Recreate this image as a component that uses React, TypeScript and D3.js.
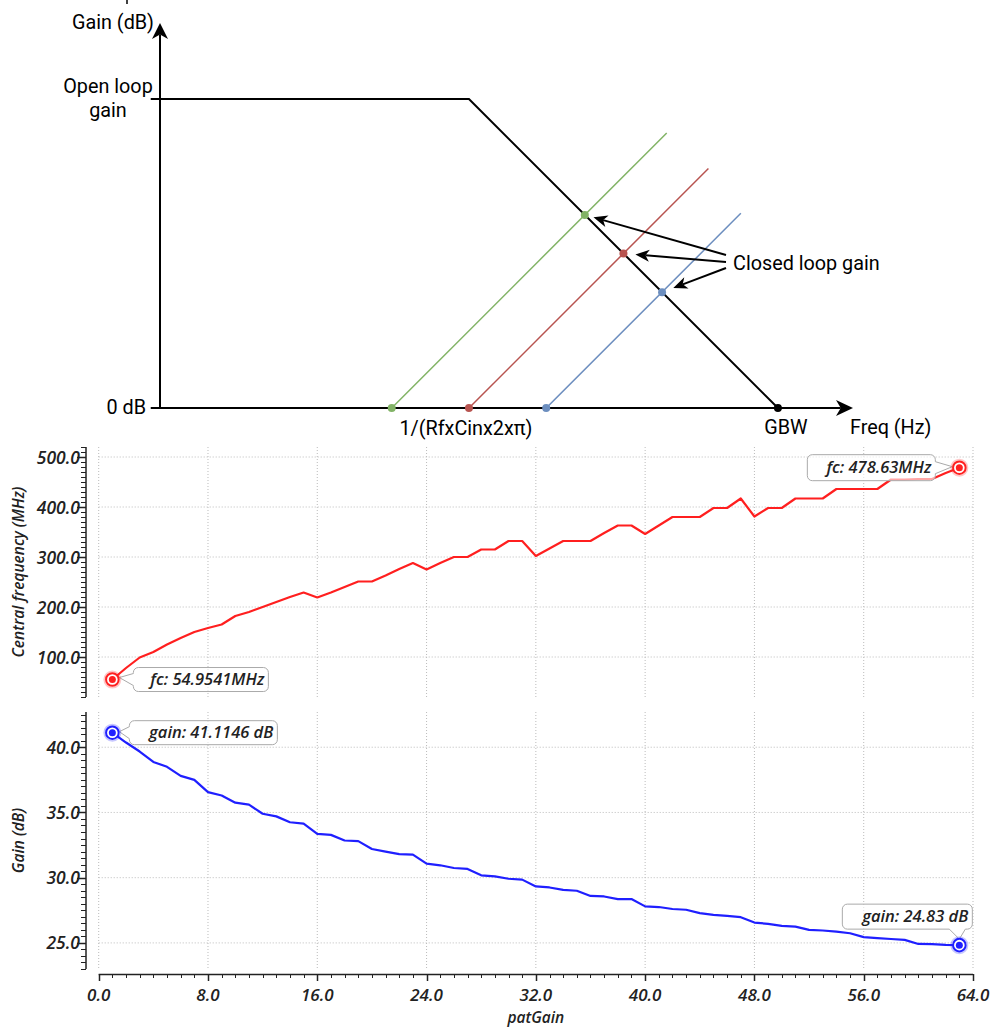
import React, { useEffect, useRef } from "react";
import * as d3 from "d3";

// ---- schematic (open loop vs closed loop gain), in abstract axis units ----
const openLoopGain = 10;
const kneeFreq = 10;
const gbwFreq = 20;
const closedStarts = [7.5, 10, 12.5];
const closedEnds = [16.4, 17.75, 18.8];
const closedColors = ["#82b366", "#b85450", "#6c8ebf"];

// ---- simulation results ----
const patGain = [
  1, 2, 3, 4, 5, 6, 7, 8, 9, 10, 11, 12, 13, 14, 15, 16, 17, 18, 19, 20, 21,
  22, 23, 24, 25, 26, 27, 28, 29, 30, 31, 32, 33, 34, 35, 36, 37, 38, 39, 40,
  41, 42, 43, 44, 45, 46, 47, 48, 49, 50, 51, 52, 53, 54, 55, 56, 57, 58, 59,
  60, 61, 62, 63,
];
const centralFreq = [
  54.9541, 78, 99, 110, 125, 138, 150, 158, 165, 182, 190, 200, 210, 220, 229,
  219, 229, 240, 251, 251, 263, 276, 288, 275, 288, 300, 300, 315, 315, 332,
  332, 302, 317, 332, 332, 332, 348, 363, 363, 346, 363, 380, 380, 380, 398,
  398, 417, 381, 398, 398, 417, 417, 417, 436, 436, 436, 436, 455, 455, 456,
  456, 468, 478.63,
];
const gainDb = [
  41.1146, 40.36, 39.67, 38.87, 38.5, 37.8, 37.5, 36.56, 36.3, 35.75, 35.6,
  34.9, 34.7, 34.25, 34.15, 33.36, 33.28, 32.85, 32.8, 32.2, 32.0, 31.8, 31.77,
  31.08, 30.95, 30.74, 30.67, 30.18, 30.1, 29.92, 29.85, 29.33, 29.25, 29.07,
  29.0, 28.6, 28.56, 28.36, 28.36, 27.8, 27.75, 27.6, 27.54, 27.28, 27.15,
  27.07, 26.97, 26.56, 26.46, 26.3, 26.25, 26.0, 25.95, 25.87, 25.74, 25.44,
  25.36, 25.3, 25.23, 24.92, 24.9, 24.85, 24.83,
];
const xTicks = [0, 8, 16, 24, 32, 40, 48, 56, 64];
const freqTicks = [100, 200, 300, 400, 500];
const gainTicks = [25, 30, 35, 40];

const W = 992;
const H = 1028;
const chartFont = "'Open Sans', 'Noto Sans', sans-serif";
const diagFont = "Roboto, 'Noto Sans', sans-serif";

const arrowHead = (g, x1, y1, x2, y2, len, half) => {
  const dx = x2 - x1;
  const dy = y2 - y1;
  const l = Math.sqrt(dx * dx + dy * dy);
  const ux = dx / l;
  const uy = dy / l;
  const nx = -uy;
  const ny = ux;
  const bx = x2 - ux * len;
  const by = y2 - uy * len;
  const notchX = x2 - ux * len * 0.72;
  const notchY = y2 - uy * len * 0.72;
  g.append("line")
    .attr("x1", x1).attr("y1", y1)
    .attr("x2", notchX).attr("y2", notchY)
    .attr("stroke", "#000").attr("stroke-width", 2);
  g.append("path")
    .attr("d", `M${x2},${y2}L${bx + nx * half},${by + ny * half}L${notchX},${notchY}L${bx - nx * half},${by - ny * half}Z`)
    .attr("fill", "#000");
};

// rounded box with a pointer towards (tx,ty)
const callout = (g, box, side, tx, ty, text) => {
  const { x, y, w, h } = box;
  const r = 5;
  const cy = y + h / 2;
  let d;
  if (side === "left") {
    d = `M${x + r},${y}H${x + w - r}A${r},${r} 0 0 1 ${x + w},${y + r}V${y + h - r}A${r},${r} 0 0 1 ${x + w - r},${y + h}H${x + r}A${r},${r} 0 0 1 ${x},${y + h - r}V${cy + 6}L${tx},${ty}L${x},${cy - 6}V${y + r}A${r},${r} 0 0 1 ${x + r},${y}Z`;
  } else if (side === "right") {
    d = `M${x + r},${y}H${x + w - r}A${r},${r} 0 0 1 ${x + w},${y + r}V${cy - 6}L${tx},${ty}L${x + w},${cy + 6}V${y + h - r}A${r},${r} 0 0 1 ${x + w - r},${y + h}H${x + r}A${r},${r} 0 0 1 ${x},${y + h - r}V${y + r}A${r},${r} 0 0 1 ${x + r},${y}Z`;
  } else {
    d = `M${x + r},${y}H${x + w - r}A${r},${r} 0 0 1 ${x + w},${y + r}V${y + h - r}A${r},${r} 0 0 1 ${x + w - r},${y + h}H${tx + 6}L${tx},${ty}L${tx - 10},${y + h}H${x + r}A${r},${r} 0 0 1 ${x},${y + h - r}V${y + r}A${r},${r} 0 0 1 ${x + r},${y}Z`;
  }
  g.append("path")
    .attr("d", d)
    .attr("fill", "#fff")
    .attr("fill-opacity", 0.6)
    .attr("stroke", "#aaa")
    .attr("stroke-width", 1);
  g.append("text")
    .attr("x", x + w - 4)
    .attr("y", cy + 5.5)
    .attr("text-anchor", "end")
    .attr("font-family", chartFont)
    .attr("font-style", "italic")
    .attr("font-weight", 600)
    .attr("font-size", 16.5)
    .attr("fill", "#222")
    .text(text);
};

const marker = (g, cx, cy, color) => {
  g.append("circle").attr("cx", cx).attr("cy", cy).attr("r", 8)
    .attr("fill", "none").attr("stroke", color).attr("stroke-opacity", 0.25).attr("stroke-width", 2);
  g.append("circle").attr("cx", cx).attr("cy", cy).attr("r", 6.3)
    .attr("fill", "#fff").attr("stroke", color).attr("stroke-width", 2);
  g.append("circle").attr("cx", cx).attr("cy", cy).attr("r", 3.5).attr("fill", color);
};

const App = () => {
  const ref = useRef(null);

  useEffect(() => {
    const svg = d3.select(ref.current);
    svg.selectAll("*").remove();

    // ================= schematic =================
    const diagX = d3.scaleLinear().domain([0, 22.43]).range([160, 853]);
    const diagY = d3.scaleLinear().domain([0, 12.46]).range([408, 23]);
    const dg = svg.append("g");

    dg.append("line").attr("x1", 127).attr("y1", 0).attr("x2", 127).attr("y2", 4)
      .attr("stroke", "#000").attr("stroke-width", 1.5);

    // axes with arrows
    arrowHead(dg, diagX(0), diagY(0), diagX(0), diagY(12.46), 16, 8);
    dg.append("line")
      .attr("x1", diagX(-0.3)).attr("y1", diagY(0))
      .attr("x2", diagX(0)).attr("y2", diagY(0))
      .attr("stroke", "#000").attr("stroke-width", 2);
    arrowHead(dg, diagX(0), diagY(0), diagX(22.43), diagY(0), 17, 8);

    // open loop response
    const diagLine = d3.line().x((d) => diagX(d[0])).y((d) => diagY(d[1]));
    dg.append("path")
      .attr("d", diagLine([[-0.3, openLoopGain], [kneeFreq, openLoopGain], [gbwFreq, 0]]))
      .attr("fill", "none").attr("stroke", "#000").attr("stroke-width", 2);

    // closed loop lines
    const hits = [];
    closedStarts.forEach((s, i) => {
      const e = closedEnds[i];
      dg.append("path")
        .attr("d", diagLine([[s, 0], [e, e - s]]))
        .attr("fill", "none").attr("stroke", closedColors[i]).attr("stroke-width", 1.5);
      const hx = (gbwFreq + s) / 2;
      const hy = (gbwFreq - s) / 2;
      hits.push([diagX(hx), diagY(hy)]);
      dg.append("circle").attr("cx", diagX(s)).attr("cy", diagY(0)).attr("r", 4).attr("fill", closedColors[i]);
      dg.append("circle").attr("cx", diagX(hx)).attr("cy", diagY(hy)).attr("r", 4).attr("fill", closedColors[i]);
    });
    dg.append("circle").attr("cx", diagX(gbwFreq)).attr("cy", diagY(0)).attr("r", 4).attr("fill", "#000");

    // "Closed loop gain" arrows
    const starts = [[726, 255], [726, 262], [726, 268]];
    hits.forEach((p, i) => {
      const [sx, sy] = starts[i];
      const dx = p[0] - sx;
      const dy = p[1] - sy;
      const l = Math.sqrt(dx * dx + dy * dy);
      const gap = i === 0 ? 9 : 12;
      arrowHead(dg, sx, sy, p[0] - (dx / l) * gap, p[1] - (dy / l) * gap, 14, 6);
    });

    const diagText = (x, y, anchor, t) =>
      dg.append("text")
        .attr("x", x).attr("y", y)
        .attr("text-anchor", anchor)
        .attr("font-family", diagFont)
        .attr("font-size", 19.8)
        .attr("fill", "#000")
        .text(t);
    diagText(154, 29, "end", "Gain (dB)");
    diagText(108, 93, "middle", "Open loop");
    diagText(108, 117, "middle", "gain");
    diagText(146, 414, "end", "0 dB");
    diagText(diagX(kneeFreq) - 3, 435, "middle", "1/(RfxCinx2xπ)");
    diagText(diagX(gbwFreq) + 8, 434, "middle", "GBW");
    diagText(850, 434, "start", "Freq (Hz)");
    diagText(733, 270, "start", "Closed loop gain");

    // ================= simulation charts =================
    const x = d3.scaleLinear().domain([0, 64]).range([98.7, 973]);
    const yFreq = d3.scaleLinear().domain([20, 520]).range([697, 447]);
    const yGain = d3.scaleLinear().domain([23, 42.7]).range([969, 712]);
    const axisX = 86;

    const panel = (yScale, ticks, minorStep, title, values, color) => {
      const g = svg.append("g");
      const [y0, y1] = yScale.range();
      const [d0, d1] = yScale.domain();

      // grid
      g.selectAll(".vg").data(xTicks).enter().append("line")
        .attr("x1", (d) => x(d)).attr("x2", (d) => x(d))
        .attr("y1", y1).attr("y2", y0)
        .attr("stroke", "#bbb").attr("stroke-dasharray", "1,2");
      g.selectAll(".hg").data(ticks).enter().append("line")
        .attr("x1", x(0)).attr("x2", x(64))
        .attr("y1", (d) => yScale(d)).attr("y2", (d) => yScale(d))
        .attr("stroke", "#bbb").attr("stroke-dasharray", "1,2");

      // y axis
      g.append("line").attr("x1", axisX).attr("x2", axisX).attr("y1", y0).attr("y2", y1)
        .attr("stroke", "#222").attr("stroke-width", 1.5);
      const minor = d3.range(Math.ceil(d0 / minorStep) * minorStep, d1 + 1e-9, minorStep);
      g.selectAll(".mt").data(minor).enter().append("line")
        .attr("x1", axisX - 5).attr("x2", axisX)
        .attr("y1", (d) => Math.round(yScale(d)) + 0.5).attr("y2", (d) => Math.round(yScale(d)) + 0.5)
        .attr("stroke", "#222");
      g.selectAll(".Mt").data(ticks).enter().append("line")
        .attr("x1", axisX - 9).attr("x2", axisX)
        .attr("y1", (d) => Math.round(yScale(d)) + 0.5).attr("y2", (d) => Math.round(yScale(d)) + 0.5)
        .attr("stroke", "#222").attr("stroke-width", 1.5);
      g.selectAll(".tl").data(ticks).enter().append("text")
        .attr("x", axisX - 6).attr("y", (d) => yScale(d) + 6.5)
        .attr("text-anchor", "end")
        .attr("font-family", chartFont).attr("font-style", "italic").attr("font-weight", 600)
        .attr("font-size", 17.5).attr("fill", "#222")
        .text((d) => d.toFixed(1));
      g.append("text")
        .attr("transform", `translate(24,${(y0 + y1) / 2}) rotate(-90)`)
        .attr("text-anchor", "middle")
        .attr("font-family", chartFont).attr("font-style", "italic").attr("font-weight", 600)
        .attr("font-size", 15.5).attr("fill", "#222")
        .text(title);

      // series
      const line = d3.line().x((d, i) => x(patGain[i])).y((d) => yScale(d));
      g.append("path").attr("d", line(values))
        .attr("fill", "none").attr("stroke", color).attr("stroke-width", 2.2)
        .attr("stroke-linejoin", "round");

      const n = values.length - 1;
      return {
        g,
        first: [x(patGain[0]), yScale(values[0])],
        last: [x(patGain[n]), yScale(values[n])],
      };
    };

    const top = panel(yFreq, freqTicks, 10, "Central frequency (MHz)", centralFreq, "#ff1f1f");
    const bot = panel(yGain, gainTicks, 0.5, "Gain (dB)", gainDb, "#1f1fff");

    // x axis
    const xg = svg.append("g");
    xg.append("line").attr("x1", x(0)).attr("x2", x(64)).attr("y1", 974.5).attr("y2", 974.5)
      .attr("stroke", "#222").attr("stroke-width", 1.5);
    xg.selectAll(".xm").data(d3.range(0, 65, 1)).enter().append("line")
      .attr("x1", (d) => Math.round(x(d)) + 0.5).attr("x2", (d) => Math.round(x(d)) + 0.5)
      .attr("y1", 974).attr("y2", (d) => (d % 8 === 0 ? 981 : 978))
      .attr("stroke", "#222").attr("stroke-width", (d) => (d % 8 === 0 ? 1.5 : 1));
    xg.selectAll(".xl").data(xTicks).enter().append("text")
      .attr("x", (d) => x(d)).attr("y", 1001)
      .attr("text-anchor", "middle")
      .attr("font-family", chartFont).attr("font-style", "italic").attr("font-weight", 600)
      .attr("font-size", 17).attr("fill", "#222")
      .text((d) => d.toFixed(1));
    xg.append("text")
      .attr("x", x(32)).attr("y", 1023)
      .attr("text-anchor", "middle")
      .attr("font-family", chartFont).attr("font-style", "italic").attr("font-weight", 600)
      .attr("font-size", 15.5).attr("fill", "#222")
      .text("patGain");

    // markers + callouts
    const [fx0, fy0] = top.first;
    const [fx1, fy1] = top.last;
    const [gx0, gy0] = bot.first;
    const [gx1, gy1] = bot.last;
    callout(top.g, { x: fx0 + 21, y: fy0 - 12, w: 135, h: 24 }, "left", fx0 + 7, fy0 - 2, `fc: ${centralFreq[0]}MHz`);
    callout(top.g, { x: fx1 - 152, y: fy1 - 13, w: 128, h: 26 }, "right", fx1 - 7, fy1 - 1, `fc: ${centralFreq[centralFreq.length - 1]}MHz`);
    callout(bot.g, { x: gx0 + 17, y: gy0 - 12, w: 148, h: 24 }, "left", gx0 + 7, gy0 - 1, `gain: ${gainDb[0]} dB`);
    callout(bot.g, { x: gx1 - 117, y: gy1 - 41, w: 130, h: 25 }, "bottom", gx1, gy1 - 6, `gain: ${gainDb[gainDb.length - 1]} dB`);
    marker(top.g, fx0, fy0, "#ff1f1f");
    marker(top.g, fx1, fy1, "#ff1f1f");
    marker(bot.g, gx0, gy0, "#1f1fff");
    marker(bot.g, gx1, gy1, "#1f1fff");
  }, []);

  return (
    <svg
      ref={ref}
      width={W}
      height={H}
      style={{ position: "absolute", left: 0, top: 0, background: "#fff" }}
    />
  );
};

export default App;
